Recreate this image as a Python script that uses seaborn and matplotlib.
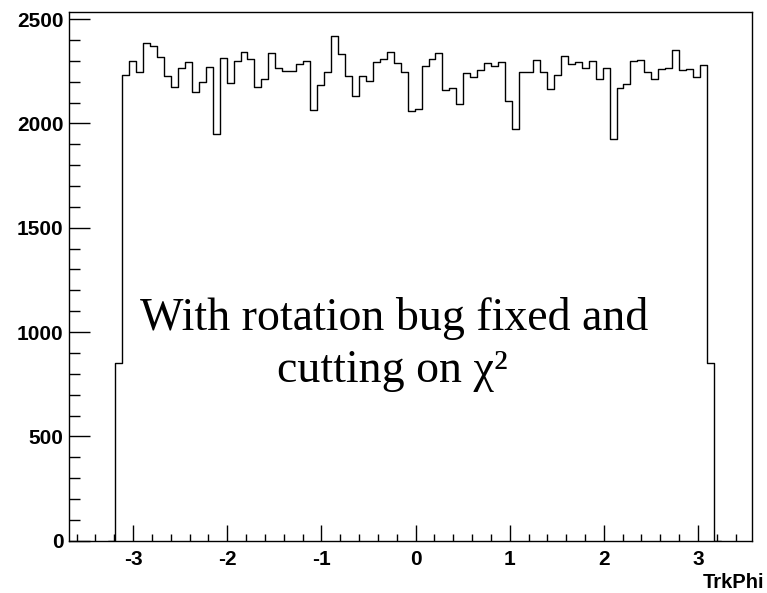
import numpy as np
import pandas as pd
import matplotlib
matplotlib.use("Agg")
import matplotlib.pyplot as plt
import seaborn as sns
from matplotlib.ticker import MultipleLocator

# ---- data ----
# histogram range including one empty bin on each side
x_min, x_max = -3.264, 3.244
counts = [
    0,
    850,
    2231, 2298, 2246, 2383, 2372, 2316, 2228, 2172, 2266, 2295, 2151, 2196, 2271, 1949, 2311, 2194, 2300,
    2343, 2307, 2172, 2214, 2338, 2266, 2252, 2252, 2286, 2297, 2064, 2184, 2247, 2418, 2331, 2227, 2131,
    2228, 2203, 2295, 2310, 2343, 2290, 2244,
    2060, 2067, 2274, 2308, 2338, 2160, 2171, 2094, 2240, 2220, 2257, 2287, 2274, 2294, 2105, 1971, 2244,
    2247, 2305, 2247, 2166, 2233, 2324, 2283,
    2295, 2266, 2300, 2214, 2266, 1925, 2169, 2191, 2300, 2305, 2244, 2214, 2260, 2266, 2354, 2255, 2262,
    2223, 2281,
    850,
    0,
]
x_label = "TrkPhi"
annotation_line1 = "With rotation bug fixed and"
annotation_line2 = "cutting on χ²"
y_ticks = [0, 500, 1000, 1500, 2000, 2500]
x_ticks = [-3, -2, -1, 0, 1, 2, 3]

n_bins = len(counts)
bin_w = (x_max - x_min) / n_bins
centers = x_min + bin_w * (np.arange(n_bins) + 0.5)
df = pd.DataFrame({"TrkPhi": centers, "entries": counts})

sns.set_theme(style="white")

fig = plt.figure(figsize=(7.67, 5.93), dpi=100)
ax = fig.add_axes([0.090, 0.0882, 0.890, 0.892])

sns.histplot(data=df, x="TrkPhi", weights="entries", binwidth=bin_w,
             binrange=(x_min, x_max), element="step", fill=False,
             color="black", linewidth=1.0, ax=ax)

ax.set_xlim(-3.68, 3.57)
ax.set_ylim(0, 2535)

for s in ax.spines.values():
    s.set_visible(True)
    s.set_color("black")
    s.set_linewidth(1.0)

ax.set_xticks(x_ticks)
ax.set_yticks(y_ticks)
ax.xaxis.set_minor_locator(MultipleLocator(0.2))
ax.yaxis.set_minor_locator(MultipleLocator(100))
ax.set_xticklabels([str(t) for t in x_ticks])
ax.set_yticklabels([str(t) for t in y_ticks])
ax.tick_params(axis="y", which="major", direction="in", length=15, width=1, color="black",
               left=True, right=False, pad=4)
ax.tick_params(axis="y", which="minor", direction="in", length=7.7, width=1, color="black",
               left=True, right=False)
ax.tick_params(axis="x", which="major", direction="in", length=11.3, width=1, color="black",
               bottom=True, top=False, pad=7)
ax.tick_params(axis="x", which="minor", direction="in", length=5.3, width=1, color="black",
               bottom=True, top=False)
for lab in ax.get_xticklabels() + ax.get_yticklabels():
    lab.set_fontfamily("Liberation Sans")
    lab.set_fontweight("bold")
    lab.set_fontsize(15)
    lab.set_color("black")

ax.set_xlabel("")
ax.set_ylabel("")
fig.text(764 / 767, 1 - 588 / 593, x_label, ha="right", va="baseline",
         fontfamily="Liberation Sans", fontweight="bold", fontsize=14.5, color="black")

ax.text(0.476, 0.398, annotation_line1, transform=ax.transAxes, ha="center", va="baseline",
        fontfamily="Liberation Serif", fontsize=33, color="black")
ax.text(0.474, 0.3006, annotation_line2, transform=ax.transAxes, ha="center", va="baseline",
        fontfamily="Liberation Serif", fontsize=33, color="black")

fig.savefig("out.png", dpi=100, facecolor="white")
